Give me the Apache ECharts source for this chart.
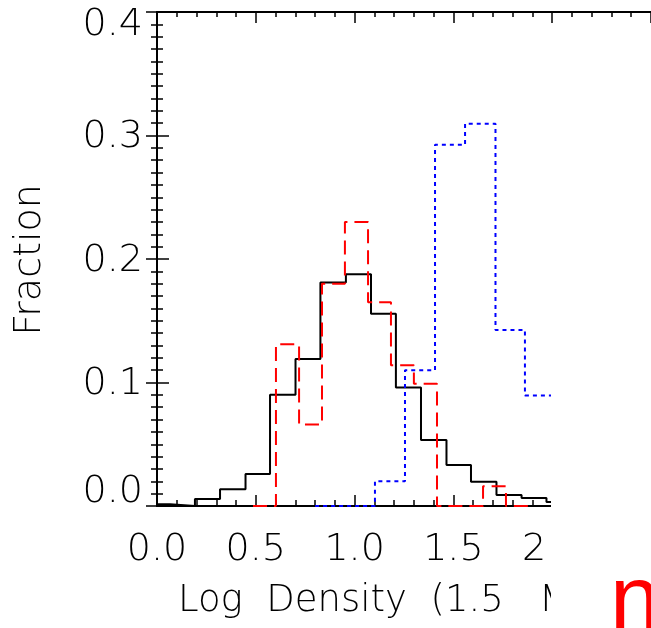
<!DOCTYPE html>
<html>
<head>
<meta charset="utf-8">
<script src="https://cdn.jsdelivr.net/npm/echarts@6/dist/echarts.min.js"></script>
<style>
  html, body { margin: 0; padding: 0; background: #fff; }
  #chart { width: 651px; height: 628px; }
</style>
</head>
<body>
<div id="chart"></div>
<script>
// histogram bin edges (log density) and fractions
const blackEdges = [-0.061, 0.066, 0.192, 0.319, 0.448, 0.572, 0.701, 0.827, 0.956, 1.083, 1.209, 1.336, 1.465, 1.589, 1.718, 1.845, 1.971, 2.095];
const blackFrac  = [0.0015, 0.0, 0.0057, 0.0135, 0.026, 0.090, 0.119, 0.181, 0.1876, 0.1556, 0.096, 0.0535, 0.0332, 0.0197, 0.0089, 0.0065, 0.0032];

const redEdges = [0.486, 0.602, 0.719, 0.835, 0.951, 1.068, 1.184, 1.300, 1.417, 1.533, 1.650, 1.766, 1.882];
const redFrac  = [0.0, 0.131, 0.066, 0.180, 0.230, 0.165, 0.114, 0.099, 0.0, 0.0, 0.016, 0.0];

const blueEdges = [0.80, 0.951, 1.103, 1.255, 1.407, 1.559, 1.713, 1.862, 2.014];
const blueFrac  = [0.0, 0.0, 0.020, 0.110, 0.2925, 0.3096, 0.1426, 0.0895];

const xTicks = [0.0, 0.5, 1.0, 1.5, 2.0, 2.5];
const yTicks = [0.0, 0.1, 0.2, 0.3, 0.4];

const labelFont = 'DejaVu Sans';

function steps(edges, vals) {
  let pts = [];
  for (let i = 0; i < vals.length; i++) {
    pts.push([edges[i], vals[i]]);
    pts.push([edges[i + 1], vals[i]]);
  }
  return pts;
}

let chart = echarts.init(document.getElementById('chart'), null, {renderer: 'canvas'});

const lineCol = '#000';
const tick = { show: true, inside: true, length: 11, lineStyle: { color: lineCol, width: 1.5 } };
const minor = (n, len) => ({ show: true, splitNumber: n, length: len, lineStyle: { color: lineCol, width: 1.5 } });

let labStyle = { fontFamily: labelFont, fontSize: 38, fontWeight: 200, color: '#000' };

let option = {
  animation: false,
  backgroundColor: '#fff',
  grid: { left: 157, top: 12, width: 494, height: 494, containLabel: false, outerBoundsMode: 'none' },
  xAxis: [
    {
      type: 'value', min: 0, max: 2.5, interval: 0.5, position: 'bottom',
      axisLine: { show: true, onZero: false, lineStyle: { color: lineCol, width: 2 } },
      axisTick: tick,
      minorTick: minor(5, 6),
      splitLine: { show: false },
      axisLabel: Object.assign({ margin: 25, formatter: v => v.toFixed(1) }, labStyle)
    },
    {
      type: 'value', min: 0, max: 2.5, interval: 0.5, position: 'top',
      axisLine: { show: true, onZero: false, lineStyle: { color: lineCol, width: 2 } },
      axisTick: tick,
      minorTick: minor(5, 5),
      splitLine: { show: false },
      axisLabel: { show: false }
    }
  ],
  yAxis: [
    {
      type: 'value', min: 0, max: 0.4, interval: 0.1, position: 'left',
      axisLine: { show: true, onZero: false, lineStyle: { color: lineCol, width: 2 } },
      axisTick: Object.assign({}, tick, { length: 12 }),
      minorTick: minor(10, 6),
      splitLine: { show: false },
      axisLabel: {
        margin: 14,
        formatter: v => {
          let s = v.toFixed(1);
          if (v === yTicks[0]) return '{lo|' + s + '}';
          if (Math.abs(v - yTicks[yTicks.length - 1]) < 1e-9) return '{hi|' + s + '}';
          return '{mid|' + s + '}';
        },
        rich: {
          lo: Object.assign({ padding: [0, 0, 27, 0] }, labStyle),
          hi: Object.assign({ padding: [27, 0, 0, 0] }, labStyle),
          mid: Object.assign({ padding: [4, 0, 0, 0] }, labStyle)
        }
      }
    },
    {
      type: 'value', min: 0, max: 0.4, interval: 0.1, position: 'right',
      axisLine: { show: false },
      axisTick: tick,
      minorTick: minor(10, 6),
      splitLine: { show: false },
      axisLabel: { show: false }
    }
  ],
  series: [
    {
      name: 'all', type: 'line', showSymbol: false, silent: true,
      data: steps(blackEdges, blackFrac),
      lineStyle: { color: '#000', width: 2 }
    },
    {
      name: 'red', type: 'line', showSymbol: false, silent: true,
      data: steps(redEdges, redFrac),
      lineStyle: { color: '#ff0000', width: 2, type: [14, 7] }
    },
    {
      name: 'blue', type: 'line', showSymbol: false, silent: true,
      data: steps(blueEdges, blueFrac),
      lineStyle: { color: '#0000ff', width: 2, type: [4, 4] }
    }
  ],
  graphic: [
    {
      type: 'text', x: 30, y: 260, rotation: Math.PI / 2, z: 50,
      style: { text: 'Fraction', fontFamily: labelFont, fontSize: 38, fontWeight: 200, fill: '#000', align: 'center', verticalAlign: 'middle' }
    },
    {
      type: 'text', x: 178, y: 601, z: 50,
      style: { text: 'Log  Density  (1.5   Mpc)', fontFamily: labelFont, fontSize: 37, fontWeight: 200, fill: '#000', align: 'left', verticalAlign: 'middle' }
    },
    {
      type: 'rect', z: 100,
      shape: { x: 551, y: 358, width: 110, height: 280 },
      style: { fill: '#fff' }
    },
    {
      type: 'text', x: 610, y: 604, z: 101,
      style: { text: 'n', fontFamily: 'Liberation Sans', fontSize: 90, fill: '#ff0000', align: 'left', verticalAlign: 'middle' }
    }
  ]
};

chart.setOption(option);
</script>
</body>
</html>
